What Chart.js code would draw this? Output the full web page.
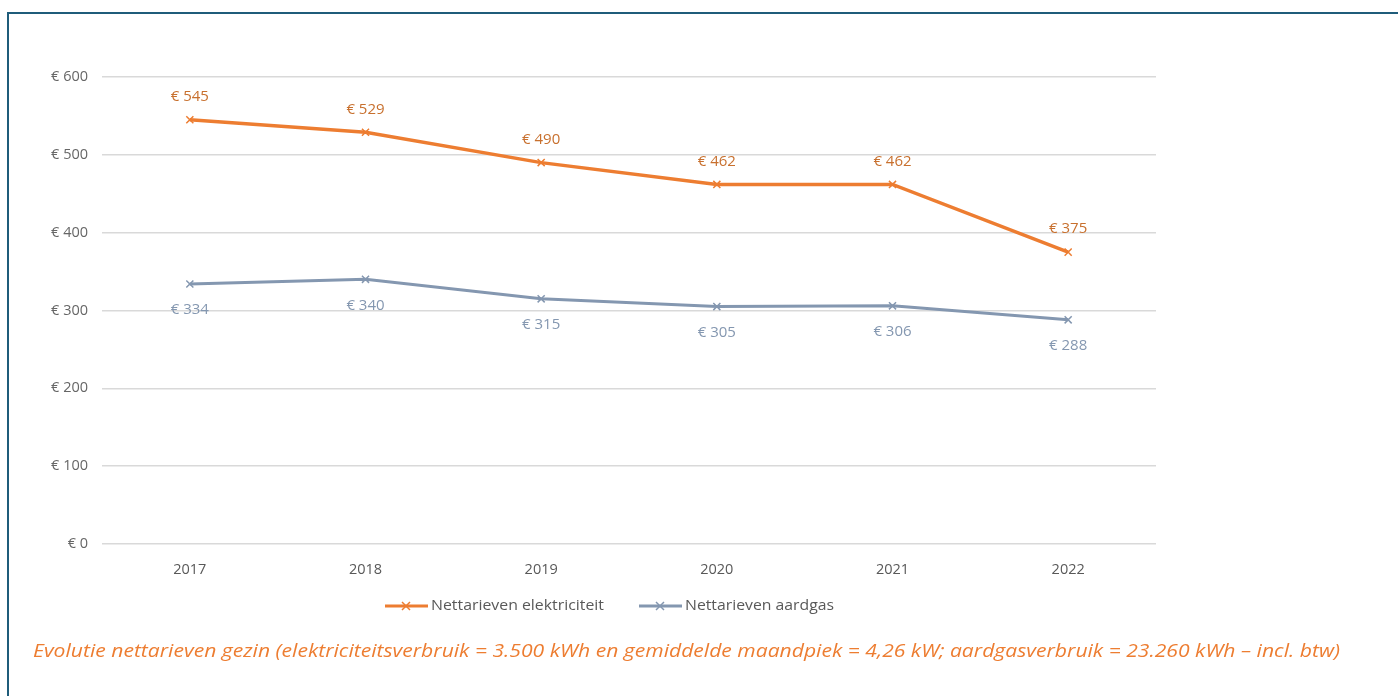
<!DOCTYPE html>
<html>
<head>
<meta charset="utf-8">
<script src="https://cdn.jsdelivr.net/npm/chart.js@4.4.0/dist/chart.umd.min.js"></script>
<style>
  html, body { margin: 0; padding: 0; background: #fff; }
  #wrap { position: relative; width: 1398px; height: 696px; overflow: hidden; }
  #frame { position: absolute; left: 7px; top: 12px; width: 1420px; height: 720px;
           border: 2px solid #1f5c7a; box-sizing: border-box; }
  canvas { position: absolute; left: 0; top: 0; }
</style>
</head>
<body>
<div id="wrap">
  <div id="frame"></div>
  <canvas id="chart" width="1398" height="696"></canvas>
</div>
<script>
// chart data
const years = ['2017', '2018', '2019', '2020', '2021', '2022'];
const electricity = [545, 529, 490, 462, 462, 375];
const gas = [334, 340, 315, 305, 306, 288];
const seriesNames = ['Nettarieven elektriciteit', 'Nettarieven aardgas'];
const yTicks = [0, 100, 200, 300, 400, 500, 600];
const caption = 'Evolutie nettarieven gezin (elektriciteitsverbruik = 3.500 kWh en gemiddelde maandpiek = 4,26 kW; aardgasverbruik = 23.260 kWh \u2013 incl. btw)';

const orange = '#ed7d31';
const blueGray = '#8497b0';
const fontFamily = '"Open Sans", "Noto Sans", sans-serif';

// text stretched to a given width, like the narrow original font
function fitText(ctx, text, x, y, width) {
    const w = ctx.measureText(text).width;
    ctx.save();
    ctx.translate(x, y);
    ctx.scale(width / w, 1);
    ctx.fillText(text, 0, 0);
    ctx.restore();
}

// draws value labels, legend and caption
const extrasPlugin = {
    id: 'extras',
    afterDatasetsDraw(chart) {
        const ctx = chart.ctx;
        ctx.save();
        ctx.font = '15px ' + fontFamily;
        ctx.textAlign = 'center';
        ctx.textBaseline = 'middle';
        chart.data.datasets.forEach((ds, i) => {
            const meta = chart.getDatasetMeta(i);
            meta.data.forEach((pt, j) => {
                ctx.fillStyle = i === 0 ? '#c8702e' : blueGray;
                const dy = i === 0 ? -23 : 26;
                ctx.fillText('\u20ac ' + ds.data[j], pt.x, pt.y + dy);
            });
        });

        // legend
        const items = [
            { x: 385, color: orange, text: seriesNames[0], w: 173 },
            { x: 639, color: blueGray, text: seriesNames[1], w: 149 }
        ];
        const ly = 606;
        items.forEach(it => {
            ctx.strokeStyle = it.color;
            ctx.lineWidth = 3;
            ctx.beginPath();
            ctx.moveTo(it.x, ly);
            ctx.lineTo(it.x + 43, ly);
            ctx.stroke();
            ctx.lineWidth = 1.5;
            const cx = it.x + 21;
            ctx.beginPath();
            ctx.moveTo(cx - 4, ly - 4); ctx.lineTo(cx + 4, ly + 4);
            ctx.moveTo(cx + 4, ly - 4); ctx.lineTo(cx - 4, ly + 4);
            ctx.stroke();
            ctx.fillStyle = '#595959';
            ctx.textAlign = 'left';
            ctx.font = '14px ' + fontFamily;
            fitText(ctx, it.text, it.x + 46, ly, it.w);
        });

        // caption
        ctx.fillStyle = orange;
        ctx.font = 'italic 18px ' + fontFamily;
        ctx.textAlign = 'left';
        ctx.textBaseline = 'alphabetic';
        fitText(ctx, caption, 33, 657, 1307);
        ctx.restore();
    }
};

const ctx = document.getElementById('chart').getContext('2d');
new Chart(ctx, {
    type: 'line',
    data: {
        labels: years,
        datasets: [
            {
                label: seriesNames[0],
                data: electricity,
                borderColor: orange,
                backgroundColor: orange,
                borderWidth: 3.5,
                pointStyle: 'crossRot',
                pointRadius: 5,
                pointBorderWidth: 1.5,
                tension: 0
            },
            {
                label: seriesNames[1],
                data: gas,
                borderColor: blueGray,
                backgroundColor: blueGray,
                borderWidth: 3,
                pointStyle: 'crossRot',
                pointRadius: 5,
                pointBorderWidth: 1.5,
                tension: 0
            }
        ]
    },
    options: {
        responsive: false,
        animation: false,
        layout: { padding: { left: 0, right: 242, top: 77, bottom: 112 } },
        plugins: {
            legend: { display: false },
            tooltip: { enabled: false }
        },
        scales: {
            x: {
                offset: true,
                grid: { display: false },
                border: { display: false },
                ticks: { color: '#595959', font: { size: 14.5, family: fontFamily }, padding: 9 },
                afterFit(scale) { scale.height = 40; }
            },
            y: {
                min: yTicks[0],
                max: yTicks[yTicks.length - 1],
                afterBuildTicks(scale) { scale.ticks = yTicks.map(v => ({ value: v })); },
                grid: { color: '#d9d9d9', lineWidth: 1.5, drawTicks: false },
                border: { display: false },
                ticks: {
                    color: '#666666',
                    font: { size: 14.5, family: fontFamily },
                    padding: 14,
                    callback: v => '\u20ac ' + v
                },
                afterFit(scale) { scale.width = 102; }
            }
        }
    },
    plugins: [extrasPlugin]
});
</script>
</body>
</html>
